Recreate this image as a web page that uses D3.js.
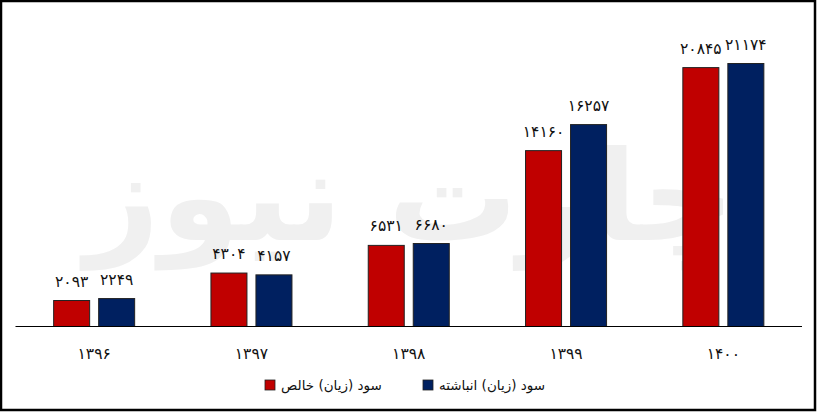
<!DOCTYPE html>
<html lang="fa">
	<head>
		<meta charset="UTF-8" />
		<title>سود (زیان)</title>
		<script src="https://d3js.org/d3.v7.min.js"></script>
		<style>
			html,
			body {
				margin: 0;
				padding: 0;
				background: white;
			}

			svg {
				display: block;
				font-family: 'DejaVu Sans', sans-serif;
			}
			.bar {
				stroke: #222;
				stroke-width: 1px;
			}
			.value-label,
			.tick-label {
				font-size: 15.5px;
				fill: #111;
			}
			.legend-label {
				font-size: 13.5px;
				fill: #111;
			}
		</style>
	</head>
	<body>
		<svg id="chart" width="817" height="412"></svg>
		<script>
			const years = [1396, 1397, 1398, 1399, 1400];
			const netProfit = [2093, 4304, 6531, 14160, 20845];
			const accProfit = [2249, 4157, 6680, 16257, 21174];
			const seriesNames = ['سود (زیان) خالص', 'سود (زیان) انباشته'];
			const seriesColors = ['#c00000', '#002060'];

			const faDigits = '۰۱۲۳۴۵۶۷۸۹';
			const toFa = (n) =>
				String(n).replace(/[0-9]/g, (d) => faDigits[+d]);

			const svg = d3.select('#chart');
			const width = +svg.attr('width');
			const height = +svg.attr('height');
			const margin = { top: 16, right: 15, bottom: 85.5, left: 15.5 };
			const baseY = height - margin.bottom;

			// watermark (logo-like, very light)
			svg
				.append('text')
				.attr('x', 410)
				.attr('y', 240)
				.attr('text-anchor', 'middle')
				.attr('font-size', 125)
				.attr('font-weight', 'bold')
				.attr('textLength', 650)
				.attr('lengthAdjust', 'spacingAndGlyphs')
				.attr('fill', '#f0f0f0')
				.text('چارت نیوز');

			const x = d3
				.scaleBand()
				.domain(years)
				.range([margin.left, width - margin.right])
				.paddingInner(0.485)
				.paddingOuter(0.2425);

			const x1 = d3
				.scaleBand()
				.domain([0, 1])
				.range([0, x.bandwidth()])
				.paddingInner(0.2);

			const y = d3
				.scaleLinear()
				.domain([0, 25000])
				.range([baseY, margin.top]);

			const rows = years.map((yr, i) => ({
				year: yr,
				values: [netProfit[i], accProfit[i]],
			}));

			const groups = svg
				.selectAll('g.group')
				.data(rows)
				.enter()
				.append('g')
				.attr('class', 'group')
				.attr('transform', (d) => `translate(${x(d.year)},0)`);

			groups
				.selectAll('rect')
				.data((d) => d.values)
				.enter()
				.append('rect')
				.attr('class', 'bar')
				.attr('x', (d, i) => x1(i))
				.attr('y', (d) => y(d))
				.attr('width', x1.bandwidth())
				.attr('height', (d) => baseY - y(d))
				.attr('fill', (d, i) => seriesColors[i]);

			groups
				.selectAll('text.value-label')
				.data((d) => d.values)
				.enter()
				.append('text')
				.attr('class', 'value-label')
				.attr('x', (d, i) => x1(i) + x1.bandwidth() / 2)
				.attr('y', (d) => y(d) - 14)
				.attr('text-anchor', 'middle')
				.text((d) => toFa(d));

			// x axis
			svg
				.append('line')
				.attr('x1', margin.left)
				.attr('x2', width - margin.right)
				.attr('y1', baseY)
				.attr('y2', baseY)
				.attr('stroke', '#000')
				.attr('stroke-width', 1.2);

			svg
				.selectAll('text.tick-label')
				.data(years)
				.enter()
				.append('text')
				.attr('class', 'tick-label')
				.attr('x', (d) => x(d) + x.bandwidth() / 2)
				.attr('y', baseY + 32)
				.attr('text-anchor', 'middle')
				.text((d) => toFa(d));

			// legend
			const legendX = [265, 423];
			const legend = svg
				.selectAll('g.legend')
				.data(seriesNames)
				.enter()
				.append('g')
				.attr('class', 'legend')
				.attr('transform', (d, i) => `translate(${legendX[i]},380)`);

			legend
				.append('rect')
				.attr('width', 10)
				.attr('height', 10)
				.attr('fill', (d, i) => seriesColors[i])
				.attr('stroke', '#222')
				.attr('stroke-width', 0.8);

			legend
				.append('text')
				.attr('class', 'legend-label')
				.attr('x', 16)
				.attr('y', 10)
				.text((d) => d);

			// frame
			svg
				.append('rect')
				.attr('x', 1)
				.attr('y', 1)
				.attr('width', width - 3)
				.attr('height', height - 3)
				.attr('fill', 'none')
				.attr('stroke', '#000')
				.attr('stroke-width', 2.5);
		</script>
	</body>
</html>
